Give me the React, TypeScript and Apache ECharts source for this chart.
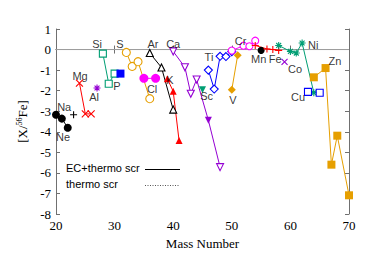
import React, { useEffect, useRef } from 'react';
import * as echarts from 'echarts';

// ---- data (mass number, [X/56Fe]) ----
const neA = [20, 21, 22];
const neV = [-3.17, -3.36, -3.8];
const naA = [23];
const naV = [-3.17];
const mgA = [24, 25, 26];
const mgV = [-1.63, -3.13, -3.13];
const alA = [27];
const alV = [-1.87];
const siA = [28, 29, 30];
const siV = [-0.2, -1.66, -1.17];
const pA = [31];
const pV = [-1.17];
const sA = [32, 33, 34, 36];
const sV = [-0.14, -0.82, -0.59, -2.39];
const clA = [35, 37];
const clV = [-1.4, -1.4];
const arA = [36, 38, 40];
const arV = [-0.17, -0.87, -2.92];
const kA = [39, 40, 41];
const kV = [-1.42, -2.03, -4.42];
const caA = [40, 42, 43, 44, 46, 48];
const caV = [-0.09, -0.86, -2.15, -1.46, -3.44, -5.72];
const caFilledMass = [46];
const scA = [45];
const scV = [-1.95];
const tiA = [46, 47, 48, 49, 50];
const tiV = [-1.0, -1.92, -0.33, -0.34, -0.1];
const vA = [50, 51];
const vV = [-1.95, -0.28];
const crA = [50, 52, 53, 54];
const crV = [-0.05, 0.19, 0.16, 0.43];
const mnA = [55];
const mnV = [-0.04];
const feA = [54, 56, 57, 58];
const feV = [0.2, 0.03, 0.0, -0.04];
const coA = [59];
const coV = [-0.6];
const niA = [58, 60, 61, 62, 64];
const niV = [0.2, -0.09, -0.17, 0.32, -2.1];
const cuA = [63, 65];
const cuV = [-2.06, -2.1];
const znA = [64, 66, 67, 68, 70];
const znV = [-1.35, -0.9, -5.6, -4.19, -7.09];

// element label anchors (data coordinates)
const labelNames = ['Na', 'Ne', 'Mg', 'Al', 'Si', 'P', 'S', 'Cl', 'Ar', 'K', 'Ca', 'Sc', 'Ti', 'V', 'Cr', 'Mn', 'Fe', 'Co', 'Ni', 'Cu', 'Zn'];
const labelX = [21.4, 21.2, 24.1, 26.5, 27.0, 30.4, 30.9, 36.4, 36.55, 39.45, 40.0, 45.7, 46.1, 50.2, 51.5, 54.6, 57.4, 60.8, 63.9, 61.3, 67.6];
const labelY = [-2.78, -4.24, -1.27, -2.29, 0.29, -1.76, 0.29, -1.9, 0.29, -1.46, 0.27, -2.24, -0.35, -2.44, 0.43, -0.44, -0.44, -0.93, 0.24, -2.29, -0.57];

const legendNames = ['EC+thermo scr', 'thermo scr'];
const xTicks = [20, 30, 40, 50, 60, 70];
const yTicks = [-8, -7, -6, -5, -4, -3, -2, -1, 0, 1];

const BLACK = '#000000';
const RED = '#ff0000';
const PURPLE = '#9400d3';
const TEAL = '#009e73';
const BLUE = '#0000ff';
const ORANGE = '#e69f00';
const MAGENTA = '#ff00ff';

const PLUS = 'path://M0,5L10,5M5,0L5,10';
const CROSS = 'path://M0,0L10,10M10,0L0,10';
const STAR = 'path://M0,5L10,5M5,0L5,10M1.5,1.5L8.5,8.5M8.5,1.5L1.5,8.5';

const SERIF = "'Liberation Serif', 'Times New Roman', 'DejaVu Serif', serif";
const SANS = "'Liberation Sans', Arial, sans-serif";

const pairs = (a: number[], v: number[]) => a.map((m, i) => [m, v[i]]);

type Mk = { symbol: string; filled: boolean; rotate?: number; size?: number };

function elemSeries(name: string, a: number[], v: number[], color: string, mk: Mk): any {
  const stroked = mk.symbol.startsWith('path://');
  const itemStyle = stroked
    ? { color: 'rgba(0,0,0,0)', borderColor: color, borderWidth: 1.1 }
    : mk.filled
    ? { color, borderWidth: 0 }
    : { color: '#ffffff', borderColor: color, borderWidth: 1.1 };
  return {
    name,
    type: 'line',
    data: pairs(a, v),
    symbol: mk.symbol,
    symbolSize: mk.size ?? 7,
    symbolRotate: mk.rotate ?? 0,
    showSymbol: true,
    lineStyle: { color, width: 1 },
    itemStyle,
    z: 3,
  };
}

export default function App() {
  const ref = useRef<HTMLDivElement>(null);
  useEffect(() => {
    if (!ref.current) return;
    const chart = echarts.init(ref.current, null, { renderer: 'svg' });

    const caSeries = elemSeries('Ca', caA, caV, PURPLE, { symbol: 'triangle', filled: false, rotate: 180 });
    caSeries.data = caA.map((m, i) =>
      caFilledMass.includes(m)
        ? { value: [m, caV[i]], itemStyle: { color: PURPLE, borderColor: PURPLE, borderWidth: 0 } }
        : { value: [m, caV[i]] }
    );

    const series: any[] = [
      {
        name: 'zero',
        type: 'line',
        data: [[20, 0], [70, 0]],
        symbol: 'none',
        lineStyle: { color: '#a0a0a0', width: 1 },
        z: 1,
        silent: true,
      },
      elemSeries('Ne', neA, neV, BLACK, { symbol: 'circle', filled: true, size: 8 }),
      elemSeries('Na', naA, naV, BLACK, { symbol: PLUS, filled: false, size: 7 }),
      elemSeries('Mg', mgA, mgV, RED, { symbol: CROSS, filled: false, size: 7 }),
      elemSeries('Al', alA, alV, PURPLE, { symbol: STAR, filled: false, size: 7 }),
      elemSeries('Si', siA, siV, TEAL, { symbol: 'rect', filled: false, size: 7 }),
      elemSeries('P', pA, pV, BLUE, { symbol: 'rect', filled: true, size: 8 }),
      elemSeries('S', sA, sV, ORANGE, { symbol: 'circle', filled: false, size: 8 }),
      elemSeries('Cl', clA, clV, MAGENTA, { symbol: 'circle', filled: true, size: 9 }),
      elemSeries('Ar', arA, arV, BLACK, { symbol: 'triangle', filled: false, size: 7 }),
      elemSeries('K', kA, kV, RED, { symbol: 'triangle', filled: true, size: 7 }),
      caSeries,
      elemSeries('Sc', scA, scV, TEAL, { symbol: 'triangle', filled: true, rotate: 180, size: 7 }),
      elemSeries('Ti', tiA, tiV, BLUE, { symbol: 'diamond', filled: false, size: 8 }),
      elemSeries('V', vA, vV, ORANGE, { symbol: 'diamond', filled: true, size: 8 }),
      elemSeries('Cr', crA, crV, MAGENTA, { symbol: 'circle', filled: false, size: 7 }),
      elemSeries('Mn', mnA, mnV, BLACK, { symbol: 'circle', filled: true, size: 7 }),
      elemSeries('Fe', feA, feV, RED, { symbol: PLUS, filled: false, size: 7 }),
      elemSeries('Co', coA, coV, PURPLE, { symbol: CROSS, filled: false, size: 6 }),
      elemSeries('Ni', niA, niV, TEAL, { symbol: STAR, filled: false, size: 7 }),
      elemSeries('Cu', cuA, cuV, BLUE, { symbol: 'rect', filled: false, size: 7 }),
      elemSeries('Zn', znA, znV, ORANGE, { symbol: 'rect', filled: true, size: 8 }),
      {
        name: 'labels',
        type: 'scatter',
        data: labelNames.map((n, i) => ({ name: n, value: [labelX[i], labelY[i]] })),
        symbolSize: 0,
        label: {
          show: true,
          position: 'inside',
          formatter: (p: any) => p.name,
          fontFamily: SANS,
          fontSize: 11,
          color: '#000',
        },
        z: 5,
        silent: true,
      },
    ];

    const axisLine = { show: true, lineStyle: { color: '#707070', width: 1 } };
    const tick = { show: true, inside: true, length: 4, lineStyle: { color: '#707070' } };

    chart.setOption({
      animation: false,
      backgroundColor: '#fff',
      grid: { left: 56, right: 25, top: 29, bottom: 51, containLabel: false },
      graphic: [
        {
          type: 'text',
          left: 66,
          top: 162,
          style: { text: legendNames[0], fontFamily: SANS, fontSize: 11, fill: '#000' },
        },
        {
          type: 'line',
          shape: { x1: 145, y1: 169.5, x2: 180, y2: 169.5 },
          style: { stroke: '#000', lineWidth: 1 },
        },
        {
          type: 'text',
          left: 66,
          top: 178,
          style: { text: legendNames[1], fontFamily: SANS, fontSize: 11, fill: '#000' },
        },
        {
          type: 'line',
          shape: { x1: 145, y1: 185.5, x2: 180, y2: 185.5 },
          style: { stroke: '#555', lineWidth: 1, lineDash: [1, 1.5] },
        },
      ],
      xAxis: [
        {
          type: 'value',
          min: xTicks[0],
          max: xTicks[xTicks.length - 1],
          interval: 10,
          name: 'Mass Number',
          nameLocation: 'middle',
          nameGap: 16,
          nameTextStyle: { fontFamily: SERIF, fontSize: 13, color: '#000' },
          axisLine,
          axisTick: tick,
          splitLine: { show: false },
          axisLabel: { fontFamily: SERIF, fontSize: 13, color: '#000', margin: 5 },
        },
        {
          type: 'value',
          position: 'top',
          min: xTicks[0],
          max: xTicks[xTicks.length - 1],
          interval: 10,
          axisLine,
          axisTick: tick,
          splitLine: { show: false },
          axisLabel: { show: false },
        },
      ],
      yAxis: [
        {
          type: 'value',
          min: yTicks[0],
          max: yTicks[yTicks.length - 1],
          interval: 1,
          name: '[X/{sup|56}Fe]',
          nameLocation: 'middle',
          nameGap: 23,
          nameTextStyle: {
            fontFamily: SERIF,
            fontSize: 13,
            color: '#000',
            lineHeight: 14,
            rich: {
              sup: { fontFamily: SERIF, fontSize: 8, lineHeight: 14, verticalAlign: 'top', color: '#000' },
            },
          },
          axisLine,
          axisTick: tick,
          splitLine: { show: false },
          axisLabel: { fontFamily: SERIF, fontSize: 13, color: '#000', margin: 5 },
        },
        {
          type: 'value',
          position: 'right',
          min: yTicks[0],
          max: yTicks[yTicks.length - 1],
          interval: 1,
          axisLine,
          axisTick: tick,
          splitLine: { show: false },
          axisLabel: { show: false },
        },
      ],
      series,
    });
    return () => chart.dispose();
  }, []);
  return (
    <div
      ref={ref}
      style={{ position: 'fixed', left: 0, top: 0, width: 374, height: 265, background: '#fff' }}
    />
  );
}
